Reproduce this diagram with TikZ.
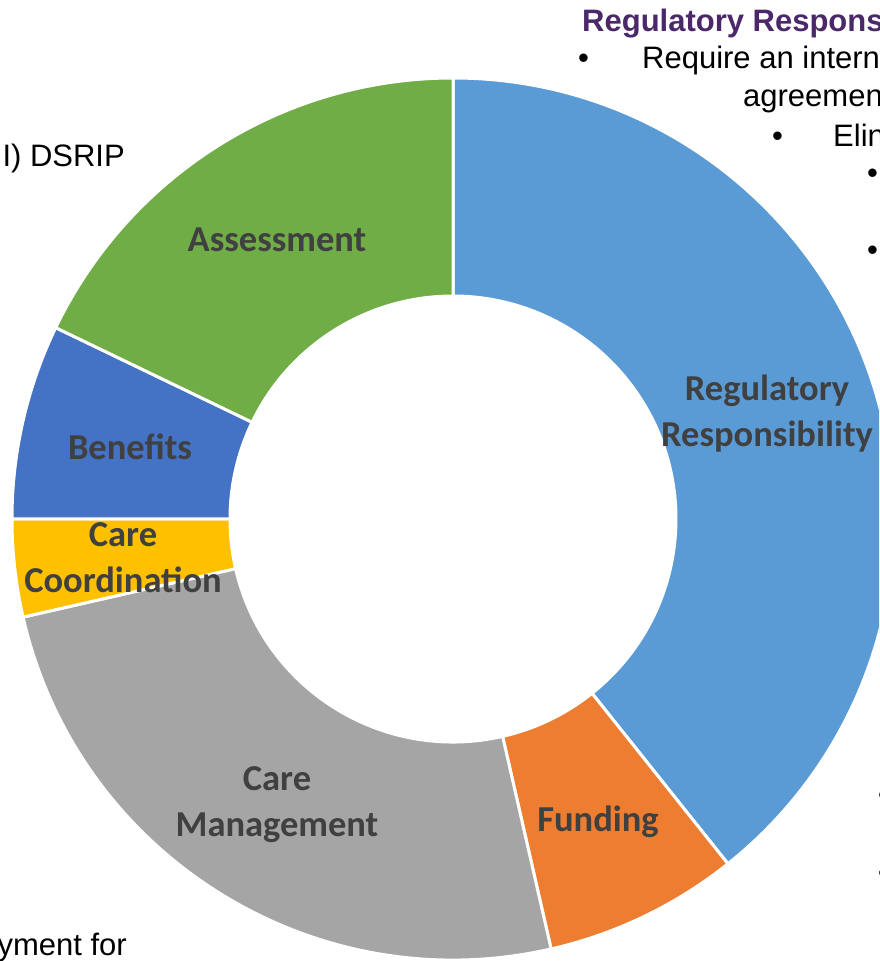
\documentclass[tikz,border=0pt]{standalone}
\usepackage{fontspec}
\setmainfont{Liberation Sans}
\newfontfamily\lblfont{Carlito}
\usepackage{tikz}

\definecolor{regblue}{RGB}{91,155,213}
\definecolor{fundorange}{RGB}{237,125,49}
\definecolor{mgmtgray}{RGB}{165,165,165}
\definecolor{coordyellow}{RGB}{255,192,0}
\definecolor{benblue}{RGB}{68,114,196}
\definecolor{assgreen}{RGB}{112,173,71}
\definecolor{lblgray}{RGB}{64,64,64}
\definecolor{hdrpurple}{RGB}{75,40,105}

\begin{document}
\begin{tikzpicture}[
		x=1pt, y=1pt,
		seg/.style={draw=white, line width=3pt},
		lbl/.style={font=\lblfont\bfseries\fontsize{36.5}{46}\selectfont, text=lblgray, align=center, inner sep=0pt},
		side/.style={font=\fontsize{31}{38}\selectfont, inner sep=0pt},
		every label/.append style={rectangle}
	]
  \clip (-453,-442) rectangle (426,519);
  % ring, 28 parts
  \filldraw[seg, fill=regblue] (90:441) arc[start angle=90, end angle=-51.4286, radius=441] -- (-51.4286:223) arc[start angle=-51.4286, end angle=90, radius=223] -- cycle;
  \filldraw[seg, fill=fundorange] (-51.4286:441) arc[start angle=-51.4286, end angle=-77.1429, radius=441] -- (-77.1429:223) arc[start angle=-77.1429, end angle=-51.4286, radius=223] -- cycle;
  \filldraw[seg, fill=mgmtgray] (-77.1429:441) arc[start angle=-77.1429, end angle=-167.1429, radius=441] -- (-167.1429:223) arc[start angle=-167.1429, end angle=-77.1429, radius=223] -- cycle;
  \filldraw[seg, fill=coordyellow] (-167.1429:441) arc[start angle=-167.1429, end angle=-180, radius=441] -- (-180:223) arc[start angle=-180, end angle=-167.1429, radius=223] -- cycle;
  \filldraw[seg, fill=benblue] (180:441) arc[start angle=180, end angle=154.2857, radius=441] -- (154.2857:223) arc[start angle=154.2857, end angle=180, radius=223] -- cycle;
  \filldraw[seg, fill=assgreen] (154.2857:441) arc[start angle=154.2857, end angle=90, radius=441] -- (90:223) arc[start angle=90, end angle=154.2857, radius=223] -- cycle;
  % labels
  \node (reg) [lbl] at (314, 105) {Regulatory\\Responsibility};
  \node (fund) [lbl] at (145, -303) {Funding};
  \node (mgmt) [lbl] at (-176, -286) {Care\\Management};
  \node (coord) [lbl] at (-330, -39) {Care\\Coordination};
  \node (ben) [lbl] at (-323, 72) {Benefits};
  \node (ass) [lbl] at (-176, 279) {Assessment};
  % text round the ring
  \node (hdr) [side, anchor=base west, text=hdrpurple, font=\bfseries\fontsize{31}{38}\selectfont] at (129, 487) {Regulatory Respons};
  \node (b_1) [side, anchor=base west] at (125, 450) {•};
  \node (req) [side, anchor=base west] at (189, 450) {Require an intern};
  \node (agr) [side, anchor=base west] at (290, 412) {agreemen};
  \node (b_2) [side, anchor=base west] at (319, 372) {•};
  \node (elin) [side, anchor=base west] at (380, 372) {Elin};
  \node (b_3) [side, anchor=base west] at (414, 335) {•};
  \node (b_4) [side, anchor=base west] at (414, 258) {•};
  \node (b_5) [side, anchor=base west] at (425, -286) {•};
  \node (b_6) [side, anchor=base west] at (425, -364) {•};
  \node (dsrip) [side, anchor=base east] at (-328, 352) {I) DSRIP};
  \node (pay) [side, anchor=base east] at (-326, -436) {yment for};
\end{tikzpicture}
\end{document}
